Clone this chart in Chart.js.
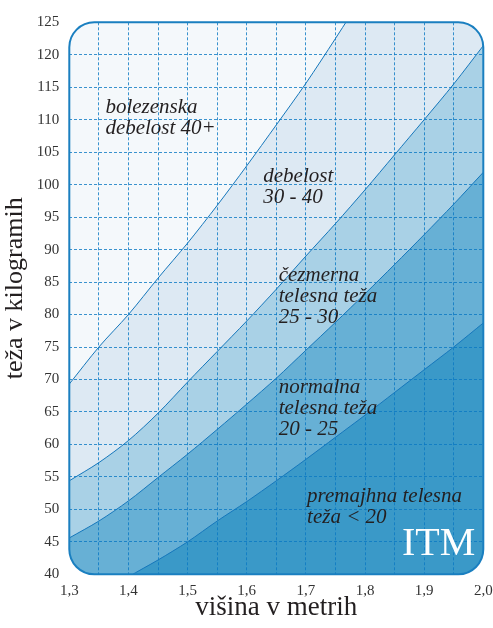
<!DOCTYPE html>
<html>
<head>
<meta charset="utf-8">
<script src="https://cdn.jsdelivr.net/npm/chart.js@4.4.0/dist/chart.umd.min.js"></script>
<style>
  html, body { margin: 0; padding: 0; background: #fff; }
</style>
</head>
<body>
<canvas id="itm-chart" width="493" height="628"></canvas>
<script>
// višina v metrih (vsakih 0,05)
var visina = [1.3, 1.35, 1.4, 1.45, 1.5, 1.55, 1.6, 1.65, 1.7, 1.75, 1.8, 1.85, 1.9, 1.95, 2.0];

// meje ITM, teža v kg (odčitano s slike)
var meja20 = [33.8, 36.5, 39.6, 42.2, 45.0, 48.2, 51.2, 54.4, 57.7, 61.1, 64.5, 68.0, 71.5, 75.0, 78.7];
var meja25 = [45.6, 48.2, 51.3, 54.9, 58.5, 62.3, 66.2, 70.2, 74.5, 78.8, 83.2, 87.7, 92.3, 97.0, 101.9];
var meja30 = [54.4, 57.2, 60.6, 64.8, 69.6, 74.3, 79.0, 83.9, 89.0, 94.0, 99.2, 104.6, 110.0, 115.5, 121.4];
var meja40 = [69.3, 75.0, 80.0, 85.6, 91.0, 96.8, 102.9, 109.2, 115.6, 122.5, 129.6];

var xOznake = ['1,3', '1,4', '1,5', '1,6', '1,7', '1,8', '1,9', '2,0'];

// napisi v območjih: besedilo, x (m), y (kg)
var napisi = [
  { vrstice: ['bolezenska', 'debelost 40+'], x: 1.361, y: 111.9 },
  { vrstice: ['debelost', '30 - 40'], x: 1.628, y: 101.2 },
  { vrstice: ['čezmerna', 'telesna teža', '25 - 30'], x: 1.654, y: 86.0 },
  { vrstice: ['normalna', 'telesna teža', '20 - 25'], x: 1.654, y: 68.8 },
  { vrstice: ['premajhna telesna', 'teža < 20'], x: 1.702, y: 52.0 }
];

var barve = {
  vrh: '#f4f8fb',
  debelost: '#dde9f3',
  cezmerna: '#a9d1e6',
  normalna: '#67b0d5',
  premajhna: '#3a99c8',
  crta: '#1677bb',
  okvir: '#1a7fc0'
};

function tocke(vrednosti) {
  return vrednosti.map(function(v, i) { return { x: visina[i], y: v }; });
}

var okvir = {
  id: 'okvir',
  beforeDatasetsDraw: function(chart) {
    var a = chart.chartArea, ctx = chart.ctx;
    ctx.save();
    ctx.beginPath();
    ctx.roundRect(a.left, a.top, a.right - a.left, a.bottom - a.top, 25);
    ctx.fillStyle = barve.debelost;
    ctx.fill();
    ctx.clip();
  },
  afterDatasetsDraw: function(chart) {
    chart.ctx.restore();
  },
  afterDraw: function(chart) {
    var a = chart.chartArea, ctx = chart.ctx;
    var sx = chart.scales.x, sy = chart.scales.y;
    ctx.save();
    ctx.beginPath();
    ctx.roundRect(a.left, a.top, a.right - a.left, a.bottom - a.top, 25);
    ctx.lineWidth = 2;
    ctx.strokeStyle = barve.okvir;
    ctx.stroke();

    ctx.font = 'italic 21px "Liberation Serif"';
    ctx.fillStyle = '#231f20';
    ctx.textAlign = 'left';
    ctx.textBaseline = 'middle';
    napisi.forEach(function(n) {
      var px = sx.getPixelForValue(n.x);
      var py = sy.getPixelForValue(n.y);
      n.vrstice.forEach(function(t, i) {
        ctx.fillText(t, px, py + i * 21);
      });
    });

    ctx.font = '40px "Liberation Serif"';
    ctx.fillStyle = '#ffffff';
    ctx.textAlign = 'right';
    ctx.textBaseline = 'alphabetic';
    ctx.fillText('ITM', a.right - 8, a.bottom - 19);

    // naslov osi y, malo nad sredino
    ctx.translate(15, (a.top + a.bottom) / 2 - 10);
    ctx.rotate(-Math.PI / 2);
    ctx.font = '26px "Liberation Serif"';
    ctx.fillStyle = '#231f20';
    ctx.textAlign = 'center';
    ctx.textBaseline = 'middle';
    ctx.fillText('teža v kilogramih', 0, 0);
    ctx.restore();
  }
};

function mreza(ctx) {
  var n = ctx.scale.ticks.length;
  if (ctx.index === 0 || ctx.index === n - 1) return 'rgba(0,0,0,0)';
  return 'rgba(10,120,195,0.8)';
}

var ctx = document.getElementById('itm-chart').getContext('2d');
var chart = new Chart(ctx, {
  type: 'line',
  data: {
    datasets: [{
      label: '20',
      data: tocke(meja20),
      borderColor: barve.crta,
      backgroundColor: barve.premajhna,
      fill: 'start'
    }, {
      label: '25',
      data: tocke(meja25),
      borderColor: barve.crta,
      backgroundColor: barve.normalna,
      fill: 'start'
    }, {
      label: '30',
      data: tocke(meja30),
      borderColor: barve.crta,
      backgroundColor: barve.cezmerna,
      fill: 'start'
    }, {
      label: '40',
      data: tocke(meja40),
      borderColor: barve.crta,
      backgroundColor: barve.vrh,
      fill: 'end'
    }]
  },
  options: {
    responsive: false,
    animation: false,
    devicePixelRatio: 1,
    layout: { padding: { left: 0, right: 9.7, top: 22.3, bottom: 4 } },
    elements: {
      line: { borderWidth: 1, tension: 0.3 },
      point: { radius: 0 }
    },
    plugins: {
      legend: { display: false },
      tooltip: { enabled: false }
    },
    scales: {
      x: {
        type: 'linear',
        min: 1.3,
        max: 2.0,
        afterFit: function(s) {
          s.height = 49.7;
          s.paddingLeft = 0;
          s.paddingRight = 0;
        },
        grid: { z: 1, color: mreza, drawTicks: false },
        border: { display: false, dash: [3, 2] },
        ticks: {
          stepSize: 0.05,
          padding: 8,
          maxRotation: 0,
          autoSkip: false,
          color: '#333',
          font: { family: 'Liberation Serif', size: 15 },
          callback: function(v) {
            var s = Math.round(v * 100);
            if (s % 10 !== 0) return '';
            return xOznake[Math.round((s - 130) / 10)];
          }
        },
        title: {
          display: true,
          text: 'višina v metrih',
          color: '#231f20',
          padding: 0,
          font: { family: 'Liberation Serif', size: 27 }
        }
      },
      y: {
        min: 40,
        max: 125,
        afterFit: function(s) {
          s.width = 69.3;
          s.paddingTop = 0;
          s.paddingBottom = 0;
        },
        grid: { z: 1, color: mreza, drawTicks: false },
        border: { display: false, dash: [3, 2] },
        ticks: {
          stepSize: 5,
          padding: 10,
          color: '#333',
          font: { family: 'Liberation Serif', size: 15 }
        }
      }
    }
  },
  plugins: [okvir]
});
</script>
</body>
</html>
